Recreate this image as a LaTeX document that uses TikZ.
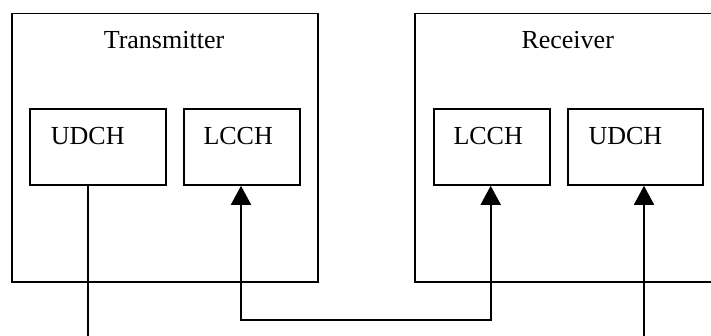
\documentclass[tikz,border=0pt]{standalone}
\usepackage{fontspec}
\setmainfont{Liberation Serif}
\usetikzlibrary{arrows.meta,calc}
\begin{document}
\begin{tikzpicture}[x=1pt,y=-1pt,
  outer/.style={draw,line width=1.8pt,rectangle,anchor=north west,inner sep=0pt},
  chbox/.style={draw,line width=1.8pt,rectangle,anchor=north west,inner sep=0pt,minimum height=76pt},
  lbl/.style={font=\fontsize{26}{30}\selectfont,inner sep=0pt,anchor=base west},
  title/.style={font=\fontsize{26}{30}\selectfont,inner sep=0pt,anchor=base},
  conn/.style={line width=1.8pt},
  tip/.style={-{Triangle[width=20pt,length=19pt]}}
]
\useasboundingbox (0,0) rectangle (711,336);
\begin{scope}
\clip (0,0) rectangle (711,336);
% outer boxes
\node[outer,minimum width=306pt,minimum height=268.5pt] (tx) at (11,12.7) {};
\node[outer,minimum width=308pt,minimum height=268.5pt] (rx) at (414,12.7) {};
\node[title] (txt) at (164,48.3) {Transmitter};
\node[title] (rxt) at (567.7,48.3) {Receiver};
% channel boxes
\node[chbox,minimum width=135.5pt] (tu) at (29.3,108) {};
\node[chbox,minimum width=116pt] (tl) at (183,108) {};
\node[chbox,minimum width=116.5pt] (rl) at (432.7,108) {};
\node[chbox,minimum width=134.5pt] (ru) at (567.3,108) {};
\node[lbl] (tut) at ($(tu.north west)+(21.4,36.3)$) {UDCH};
\node[lbl] (tlt) at ($(tl.north west)+(20.3,36.3)$) {LCCH};
\node[lbl] (rlt) at ($(rl.north west)+(20.6,36.3)$) {LCCH};
\node[lbl] (rut) at ($(ru.north west)+(21,36.3)$) {UDCH};
% connectors
\coordinate (tuend) at (87.7,340);
\coordinate (ruend) at (644,340);
\draw[conn] (tu.south -| tuend) -- (tuend);
\draw[conn,tip] (ruend) -- (ru.south -| ruend);
\coordinate (tlx) at (241,0);
\coordinate (rlx) at (490.7,0);
\draw[conn,{Triangle[width=20pt,length=19pt]}-{Triangle[width=20pt,length=19pt]}]
  (tl.south -| tlx) -- (tlx |- 0,320) -- (rlx |- 0,320) -- (rl.south -| rlx);
\end{scope}
\end{tikzpicture}
\end{document}
